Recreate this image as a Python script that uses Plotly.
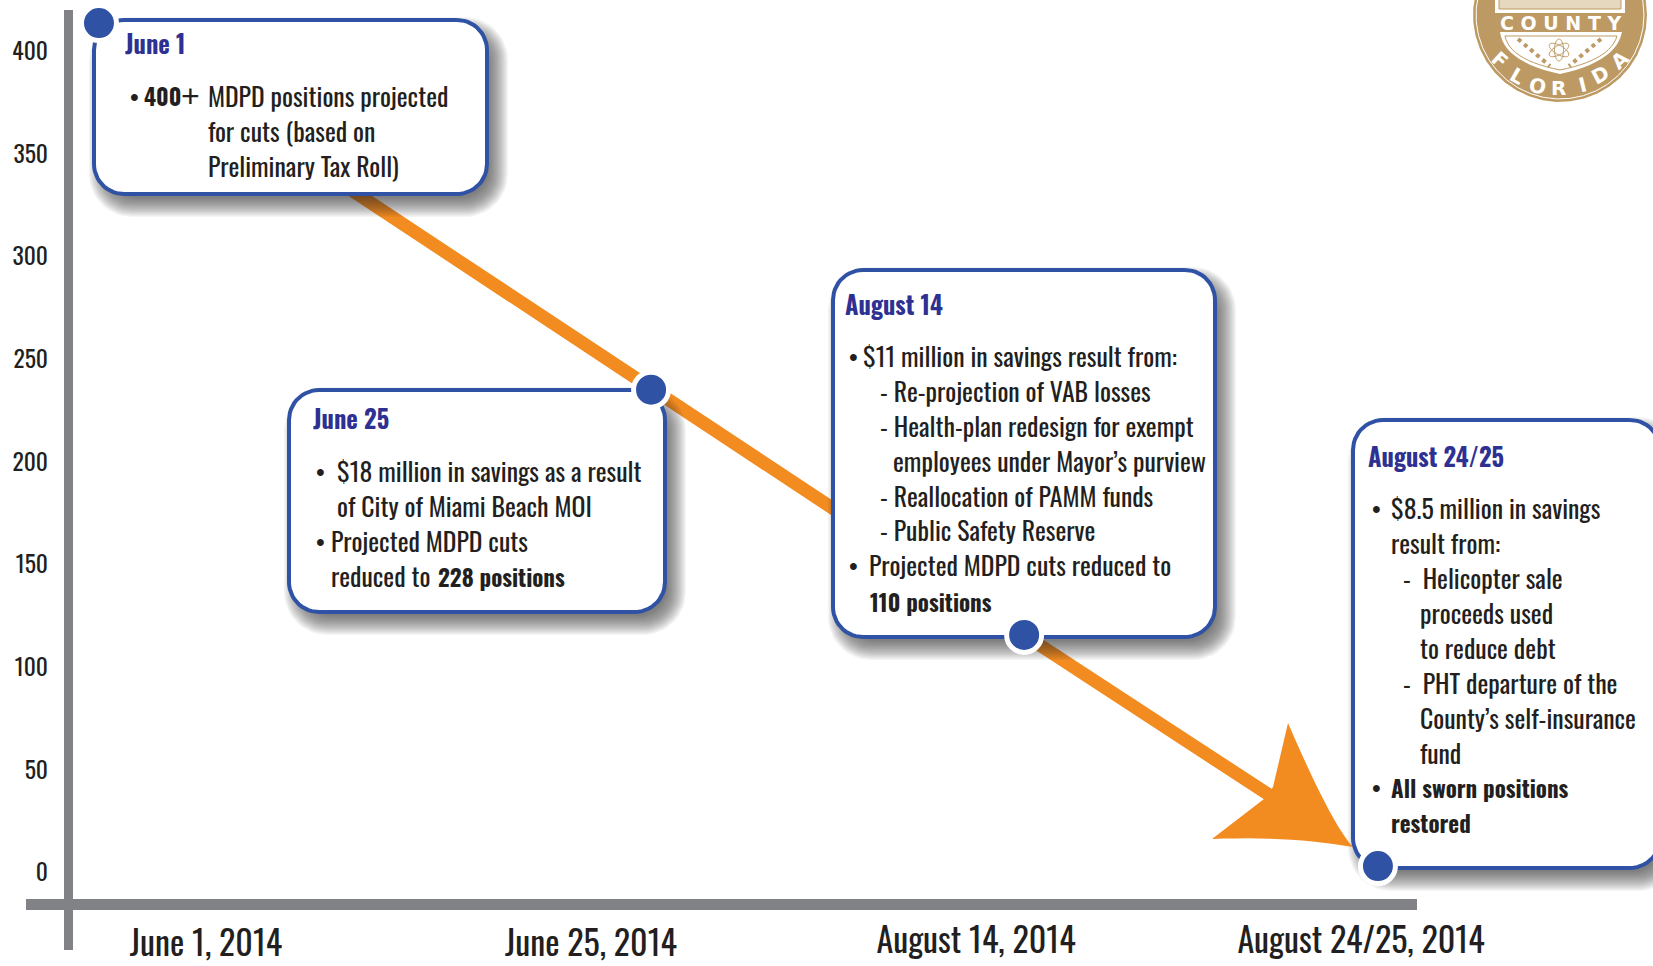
import numpy as np
import plotly.graph_objects as go

# ---- data ----
tick_positions = [0, 1, 2, 3]
tick_labels = ["June 1, 2014", "June 25, 2014", "August 14, 2014", "August 24/25, 2014"]
y_ticks = [0, 50, 100, 150, 200, 250, 300, 350, 400]
point_x = [-0.278, 1.156, 2.125, 3.044]
point_y = [414.1, 235.5, 116, 3.4]

BLUE = "#2F52A4"
TITLE = "#2E3192"
ORANGE = "#F28B20"
GREY = "#808285"
INK = "#231F20"
GOLD = "#BD9A63"
FONT = "Oswald, 'Roboto Condensed', 'Liberation Sans'"

W, H = 1653, 966
L, R, T, B = 68, 1653, 10, 904
X0, X1 = (L - 206) / 385, (R - 206) / 385
Y0, Y1 = (873 - B) / 2.0525, (873 - T) / 2.0525


def dx(p):
    return X0 + (np.asarray(p, float) - L) / (R - L) * (X1 - X0)


def dy(p):
    return Y0 + (B - np.asarray(p, float)) / (B - T) * (Y1 - Y0)


def px(p):
    return (p - L) / (R - L)


def py(p):
    return (B - p) / (B - T)


def rounded(l, t, r, b, rad):
    a = np.linspace(0, np.pi / 2, 14)
    xs = np.concatenate([r - rad + rad * np.sin(a), r - rad + rad * np.cos(a),
                         l + rad - rad * np.sin(a), l + rad - rad * np.cos(a), [r - rad]])
    ys = np.concatenate([t + rad - rad * np.cos(a), b - rad + rad * np.sin(a),
                         b - rad + rad * np.cos(a), t + rad - rad * np.sin(a), [t]])
    return xs, ys


def path(points, close=True):
    s = "M " + " L ".join(f"{px(x):.5f},{py(y):.5f}" for x, y in points)
    return s + (" Z" if close else "")


def ellipse(cx, cy, a, b, rot):
    t = np.linspace(0, 2 * np.pi, 40)
    c, s = np.cos(rot), np.sin(rot)
    return [(cx + a * np.cos(u) * c - b * np.sin(u) * s, cy + a * np.cos(u) * s + b * np.sin(u) * c) for u in t]


def quad(p0, p1, p2, n=14):
    return [((1 - u) ** 2 * p0[0] + 2 * u * (1 - u) * p1[0] + u * u * p2[0],
             (1 - u) ** 2 * p0[1] + 2 * u * (1 - u) * p1[1] + u * u * p2[1]) for u in np.linspace(0, 1, n)]


boxes = [(94, 20, 487, 194), (289, 390, 665, 612), (833, 270, 1215, 637), (1353, 420, 1660, 868)]

fig = go.Figure()

# trend line: the last stretch stops inside the arrow head
line_x = point_x[:3] + [point_x[2] + 0.75 * (point_x[3] - point_x[2])]
line_y = point_y[:3] + [point_y[2] + 0.75 * (point_y[3] - point_y[2])]
fig.add_trace(go.Scatter(x=line_x, y=line_y, mode="lines", line=dict(color=ORANGE, width=13),
                         hoverinfo="skip", showlegend=False, cliponaxis=False))

# box shadows and boxes
for l, t, r, b in boxes:
    for e in np.linspace(13, -6, 16):
        xs, ys = rounded(l + 8 - e, t + 10 - e, r + 8 + e, b + 10 + e, 30 + max(e, 0))
        fig.add_trace(go.Scatter(x=dx(xs), y=dy(ys), mode="lines", fill="toself",
                                 fillcolor="rgba(35,31,32,0.05)", line=dict(width=0),
                                 hoverinfo="skip", showlegend=False, cliponaxis=False))
    xs, ys = rounded(l, t, r, b, 30)
    fig.add_trace(go.Scatter(x=dx(xs), y=dy(ys), mode="lines", fill="toself", fillcolor="white",
                             line=dict(color=BLUE, width=4), hoverinfo="skip", showlegend=False,
                             cliponaxis=False))

# milestone markers
fig.add_trace(go.Scatter(x=point_x, y=point_y, mode="markers", hoverinfo="skip", showlegend=False,
                         marker=dict(size=35, color=BLUE, line=dict(color="white", width=5)),
                         cliponaxis=False))
# carries the second tick row
fig.add_trace(go.Scatter(x=tick_positions[2:], y=[0, 0], xaxis="x2", mode="markers",
                         marker=dict(opacity=0), hoverinfo="skip", showlegend=False))

shapes = [
    dict(type="rect", xref="paper", yref="paper", x0=px(64), x1=px(73), y0=py(10), y1=py(950),
         fillcolor=GREY, line_width=0, layer="below"),
    dict(type="rect", xref="paper", yref="paper", x0=px(26), x1=px(1417), y0=py(899), y1=py(910),
         fillcolor=GREY, line_width=0, layer="below"),
]

# arrow head
head = (quad((1353, 847), (1332, 825), (1288, 723)) +
        [(1273, 787), (1264, 799), (1212, 839)] +
        quad((1212, 839), (1290, 836), (1353, 847)))
shapes.append(dict(type="path", xref="paper", yref="paper", path=path(head), fillcolor=ORANGE,
                   line_width=0, layer="above"))

# county seal
seal_c = (1560, 15)
shapes.append(dict(type="path", xref="paper", yref="paper", path=path(ellipse(*seal_c, 87, 87, 0)),
                   fillcolor=GOLD, line=dict(color="white", width=0), layer="above"))
shapes.append(dict(type="path", xref="paper", yref="paper", path=path(ellipse(*seal_c, 84, 84, 0)),
                   fillcolor="rgba(0,0,0,0)", line=dict(color="white", width=1), layer="above"))
shapes.append(dict(type="path", xref="paper", yref="paper",
                   path=path([(1495, -8), (1625, -8), (1625, 13), (1495, 13)]),
                   fillcolor="white", line_width=0, layer="above"))
shapes.append(dict(type="path", xref="paper", yref="paper",
                   path=path([(1499, -8), (1621, -8), (1621, 9), (1499, 9)]),
                   fillcolor="#E6D8BE", line=dict(color=GOLD, width=1), layer="above"))
shield = quad((1500, 32), (1504, 62), (1560, 74)) + quad((1560, 74), (1616, 62), (1622, 32))
shapes.append(dict(type="path", xref="paper", yref="paper", path=path(shield), fillcolor="white",
                   line_width=0, layer="above"))
inner = quad((1505, 36), (1510, 60), (1560, 70)) + quad((1560, 70), (1610, 60), (1617, 36))
shapes.append(dict(type="path", xref="paper", yref="paper", path=path(inner), fillcolor="white",
                   line=dict(color=GOLD, width=1), layer="above"))
for rot in (0, np.pi / 3, -np.pi / 3):
    shapes.append(dict(type="path", xref="paper", yref="paper", path=path(ellipse(1559, 50, 11, 4.5, rot + np.pi / 2)),
                       fillcolor="rgba(0,0,0,0)", line=dict(color=GOLD, width=1), layer="above"))
for a, b in (((1518, 39), (1550, 66)), ((1601, 39), (1569, 66))):
    shapes.append(dict(type="path", xref="paper", yref="paper", path=path([a, b], close=False),
                       line=dict(color=GOLD, width=4, dash="dot"), layer="above"))

# ---- text ----
notes = []


def note(x, y, text, size=25.8, color=INK, font=FONT, angle=0, anchor="left"):
    notes.append(dict(xref="paper", yref="paper", x=px(x), y=py(y), text=text, showarrow=False,
                      xanchor=anchor, yanchor="middle", align="left", textangle=angle, borderpad=0,
                      font=dict(family=font, size=size, color=color)))


titles = [(124, 43, "June 1"), (312, 418, "June 25"), (844, 304, "August 14"), (1367, 456, "August 24/25")]
for x, y, t in titles:
    note(x, y, f"<b>{t}</b>", size=24.5, color=TITLE)

bullets = [(134, 97), (320, 472), (320, 542), (853, 357), (853, 566), (1376, 509), (1376, 788)]
for x, y in bullets:
    note(x, y, "•", size=25, anchor="center", font="Liberation Sans")

lines = [
    (207, 95, "MDPD positions projected"), (207, 130, "for cuts (based on"),
    (207, 165, "Preliminary Tax Roll)"),
    (336, 470, "$18 million in savings as a result"), (336, 505, "of City of Miami Beach MOI"),
    (330, 540, "Projected MDPD cuts"), (330, 575, "reduced to"),
    (862, 355, "$11 million in savings result from:"),
    (879, 390, "- Re-projection of VAB losses"),
    (879, 425, "- Health-plan redesign for exempt"),
    (892, 460, "employees under Mayor’s purview"),
    (879, 495, "- Reallocation of PAMM funds"),
    (879, 529, "- Public Safety Reserve"),
    (868, 564, "Projected MDPD cuts reduced to"),
    (1390, 507, "$8.5 million in savings"), (1390, 542, "result from:"),
    (1402, 577, "-  Helicopter sale"), (1419, 612, "proceeds used"), (1419, 647, "to reduce debt"),
    (1402, 682, "-  PHT departure of the"), (1419, 717, "County’s self-insurance"),
    (1419, 752, "fund"),
]
for x, y, t in lines:
    note(x, y, t)

bold_lines = [
    (143, 96, "400"), (437, 577, "228 positions"), (869, 602, "110 positions"),
    (1390, 788, "All sworn positions"), (1390, 823, "restored"),
]
for x, y, t in bold_lines:
    note(x, y, f"<b>{t}</b>", size=23)
note(180, 96, "+", size=32, font="Liberation Sans")

note(1560, 23, "<b>C O U N T Y</b>", size=19, color="white", font="DejaVu Sans", anchor="center")
for x, y, a, ch in [(1500, 60, 42, "F"), (1517, 76, 30, "L"), (1537, 86, 13, "O"), (1558, 88, 0, "R"),
                    (1582, 85, -14, "I"), (1600, 75, -28, "D"), (1620, 60, -42, "A")]:
    note(x, y, f"<b>{ch}</b>", size=20, color="white", font="DejaVu Sans", angle=a, anchor="center")

axis_common = dict(showgrid=False, zeroline=False, showline=False, ticks="", automargin=False)
fig.update_layout(
    width=W, height=H, autosize=False,
    margin=dict(l=L, r=W - R, t=T, b=H - B, pad=0, autoexpand=False),
    paper_bgcolor="white", plot_bgcolor="white", showlegend=False, hovermode=False,
    xaxis=dict(range=[X0, X1], tickmode="array", tickvals=tick_positions[:2], ticktext=tick_labels[:2],
               tickfont=dict(family=FONT, size=34, color=INK), ticklabelstandoff=17, **axis_common),
    xaxis2=dict(range=[X0, X1], overlaying="x", side="bottom", anchor="y", tickmode="array",
                tickvals=tick_positions[2:], ticktext=tick_labels[2:],
                tickfont=dict(family=FONT, size=34, color=INK), ticklabelstandoff=14, **axis_common),
    yaxis=dict(range=[Y0, Y1], tickmode="array", tickvals=y_ticks, ticktext=[str(v) for v in y_ticks],
               tickfont=dict(family=FONT, size=23.5, color=INK), ticklabelstandoff=19, **axis_common),
    shapes=shapes, annotations=notes,
)
fig.write_html("out.html", config={"displayModeBar": False},
               post_script="document.body.style.margin='0';")
